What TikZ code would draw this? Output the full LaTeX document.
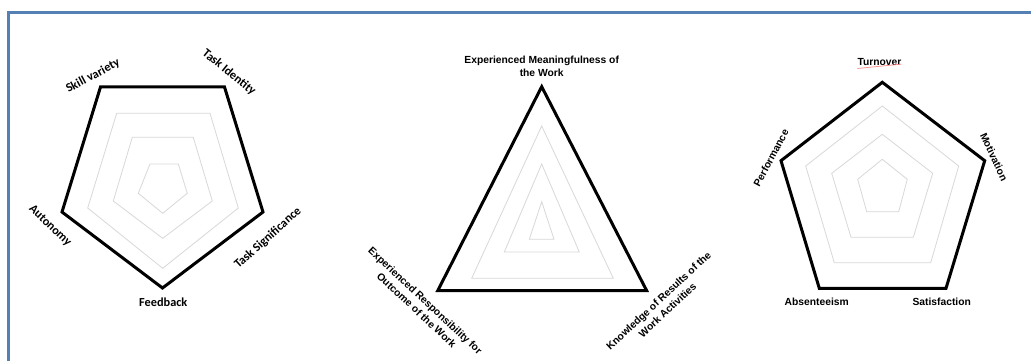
\documentclass[tikz,border=0pt]{standalone}
\usepackage{fontspec}
\newfontfamily\calfont{Carlito}
\newfontfamily\arifont{Liberation Sans}
\definecolor{framec}{HTML}{5580B4}
\definecolor{gridc}{HTML}{D8D8D8}
\begin{document}
\begin{tikzpicture}[x=1pt,y=-1pt,
  outer/.style={draw=black,line width=3pt,line join=miter},
  grid/.style={draw=gridc,line width=0.8pt},
  lblA/.style={font=\calfont\bfseries\fontsize{12.3}{14}\selectfont,inner sep=0pt},
  lblB/.style={font=\arifont\bfseries\fontsize{10.3}{13}\selectfont,inner sep=0pt,align=center}]
\useasboundingbox (0,0) rectangle (1031,361);
\fill[white] (0,0) rectangle (1031,361);
% frame
\draw[framec,line width=2.4pt] (8.3,370) -- (8.3,12.5) -- (1040,12.5);

% ---- left pentagon ----
\draw[grid] (150,164) -- (178.3,164) -- (187.3,193.3) -- (162.7,213.3) -- (138.3,193.3) -- cycle;
\draw[grid] (132.3,137.3) -- (193.3,137.3) -- (212.3,201) -- (162.7,238.3) -- (113.3,201) -- cycle;
\draw[grid] (116.7,113.3) -- (210,113.3) -- (238.3,208) -- (162.7,268.3) -- (87.7,208) -- cycle;
\draw[outer] (100.5,87) -- (224.5,87) -- (263,212) -- (162.5,288) -- (62,212) -- cycle;
\node[lblA,rotate=28] (skill) at (93,76) {Skill variety};
\node[lblA,rotate=-39] (ident) at (229,72.5) {Task Identity};
\node[lblA,rotate=-44] (auto) at (50,226) {Autonomy};
\node[lblA,rotate=42] (signif) at (268,238) {Task Significance};
\node[lblA] (feed) at (163.3,302.5) {Feedback};

% ---- middle triangle ----
\draw[grid] (541.7,201.7) -- (554,239.3) -- (529.3,239.3) -- cycle;
\draw[grid] (541.7,164) -- (579.3,252) -- (504.3,252) -- cycle;
\draw[grid] (541.7,126) -- (613.3,278.3) -- (471.7,278.3) -- cycle;
\draw[outer] (541.7,86.7) -- (646.7,290.7) -- (437.7,290.7) -- cycle;
\node[lblB] (mean) at (541.7,66.5) {Experienced Meaningfulness of\\the Work};
\node[lblB,rotate=-43] (resp) at (421,305.4) {Experienced Responsibility for\\Outcome of the Work};
\node[lblB,rotate=43] (know) at (663,305.4) {Knowledge of Results of the\\Work Activities};

% ---- right pentagon ----
\draw[grid] (882.3,159.3) -- (907.3,179.3) -- (898.7,211.7) -- (866.7,211.7) -- (857.7,179.3) -- cycle;
\draw[grid] (882.3,134.3) -- (932.7,173.3) -- (913.3,237.3) -- (851,237.3) -- (831.7,173.3) -- cycle;
\draw[grid] (882.3,106) -- (958.7,166) -- (930.7,262.7) -- (834.3,262.7) -- (805.7,166) -- cycle;
\draw[outer] (882.3,82.3) -- (984.7,160.7) -- (946,288.3) -- (819.3,288.3) -- (781,160.7) -- cycle;
\node[lblB] (turn) at (879.5,62.5) {Turnover};
\draw[red!45,line width=0.7pt] (turn.south west) ++(0,2.2) -- ([yshift=2.2pt]turn.south east);
\node[lblB,rotate=62] (perf) at (771,158) {Performance};
\node[lblB,rotate=-65] (motiv) at (994,157) {Motivation};
\node[lblB] (absent) at (816.7,302.3) {Absenteeism};
\node[lblB] (satis) at (941.7,301.7) {Satisfaction};
\end{tikzpicture}
\end{document}
